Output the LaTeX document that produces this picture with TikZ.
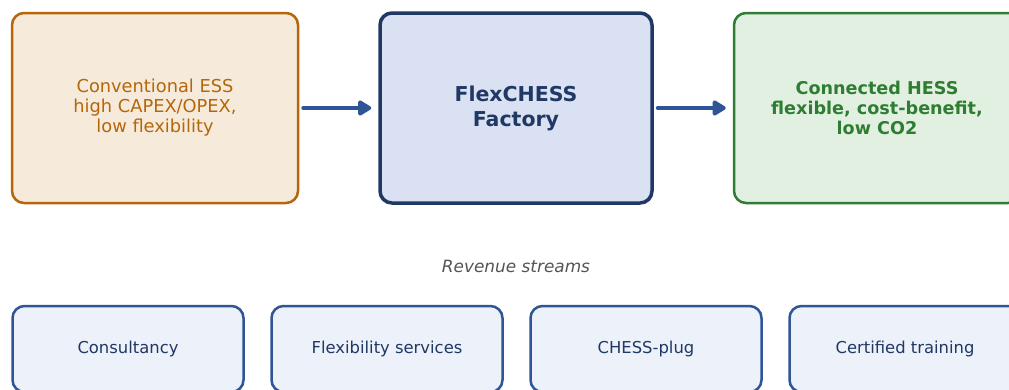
\documentclass[tikz,border=0pt]{standalone}
\usepackage{fontspec}
\setmainfont{DejaVu Sans}
\usepackage{xcolor}
\usepackage{tikz}
\usetikzlibrary{positioning}
\usetikzlibrary{arrows.meta}
\definecolor{essorange}{HTML}{B5660A}
\definecolor{essfill}{HTML}{F6EBDB}
\definecolor{facnavy}{HTML}{1F3864}
\definecolor{facfill}{HTML}{DAE1F3}
\definecolor{hessgreen}{HTML}{2E7D32}
\definecolor{hessfill}{HTML}{E2F0E1}
\definecolor{revblue}{HTML}{2F5597}
\definecolor{revfill}{HTML}{EDF1FA}
\tikzset{
  Box/.style={rounded corners=12pt, align=center, inner sep=0pt,
    minimum width=#1, minimum height=190pt}, % Grundform
  ESSBox/.style={Box=286pt, draw=essorange, fill=essfill, line width=2.5pt,
    text=essorange, font=\fontsize{17.8}{20}\selectfont},
  FacBox/.style={Box=272pt, draw=facnavy, fill=facfill, line width=3.5pt,
    text=facnavy, font=\fontsize{20.5}{25}\selectfont\bfseries},
  HESSBox/.style={Box=286pt, draw=hessgreen, fill=hessfill, line width=2.5pt,
    text=hessgreen, font=\fontsize{17.6}{20}\selectfont\bfseries},
  RevBox/.style={rounded corners=12pt, draw=revblue, fill=revfill, line width=2.5pt,
    text=facnavy, minimum width=231pt, minimum height=86pt, inner sep=0pt,
    font=\fontsize{16.4}{19}\selectfont},
  Pfeil/.style={revblue, line width=4pt, line cap=round,
    -{Triangle[length=15pt,width=17pt,round]}}
}
\begin{document}
\begin{tikzpicture}[x=1pt, y=-1pt]
\useasboundingbox (0,0) rectangle (1009,389);

%Hauptkette
\node[ESSBox] (ess) at (155,108) {Conventional ESS\\high CAPEX/OPEX,\\low flexibility};
\node[FacBox] (fac) at (516,108) {FlexCHESS\\Factory};
\node[HESSBox] (hess) at (877,108) {Connected HESS\\flexible, cost-benefit,\\low CO2};

%Pfeile
\draw[Pfeil] ([xshift=4pt]ess.east) -- ([xshift=-7pt]fac.west);
\draw[Pfeil] ([xshift=4pt]fac.east) -- ([xshift=-7pt]hess.west);

%Einnahmen
\node[text=black!67, font=\fontsize{16.9}{19}\selectfont\itshape] (rev) at (516,266) {Revenue streams};
\node[RevBox] (cons) at (128,349) {Consultancy};
\node[RevBox, right=25.5pt of cons] (flex) {Flexibility services};
\node[RevBox, right=25.5pt of flex] (plug) {CHESS-plug};
\node[RevBox, right=25.5pt of plug] (train) {Certified training};

\end{tikzpicture}
\end{document}
